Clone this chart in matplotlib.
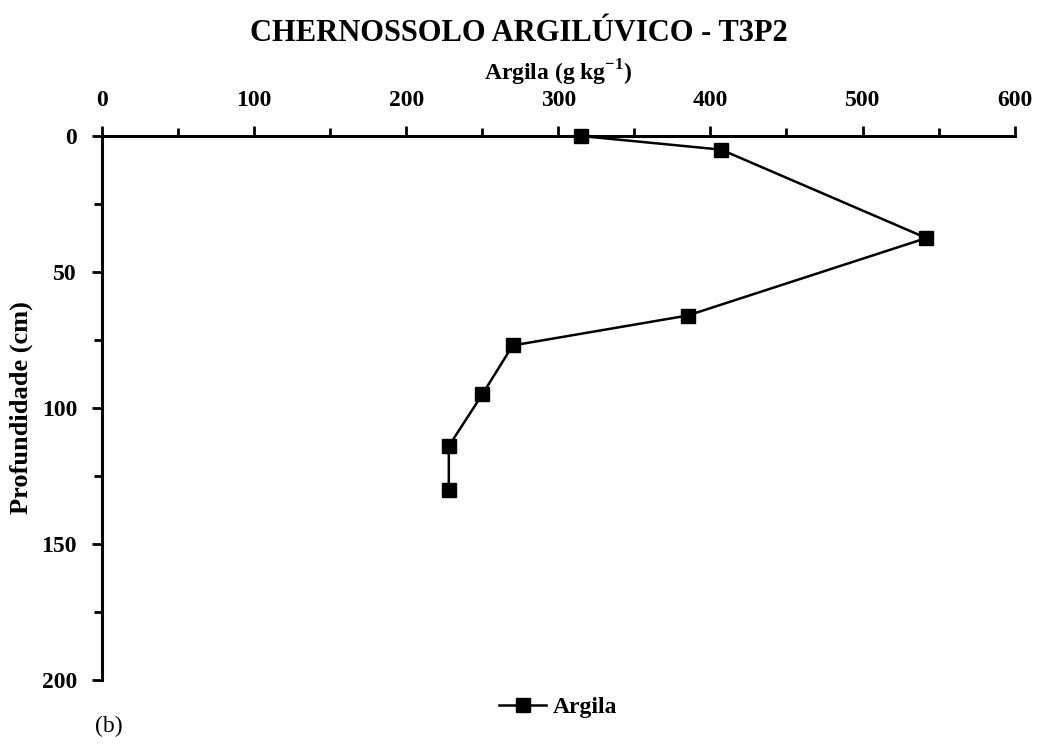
import matplotlib
matplotlib.use("Agg")
import matplotlib.pyplot as plt
from matplotlib.ticker import MultipleLocator

plt.rcParams['font.family'] = ['Liberation Serif', 'DejaVu Serif']
plt.rcParams['font.weight'] = 'bold'
plt.rcParams['mathtext.fontset'] = 'custom'
plt.rcParams['mathtext.bf'] = 'Liberation Serif:bold'
plt.rcParams['mathtext.rm'] = 'Liberation Serif:bold'

# profile data
argila = [315, 407, 542, 385, 270, 250, 228, 228]
profundidade = [0, 5, 37.5, 66, 77, 95, 114, 130]

fig = plt.figure(figsize=(10.37, 7.49), dpi=100)
ax = fig.add_axes([0.0984, 0.0921, 0.880, 0.7263])

ax.plot(argila, profundidade, color='k', lw=1.8, marker='s', markersize=10,
        label='Argila', clip_on=False, zorder=5)

ax.set_xlim(0, 600)
ax.set_ylim(200, 0)
ax.xaxis.set_major_locator(MultipleLocator(100))
ax.xaxis.set_minor_locator(MultipleLocator(50))
ax.yaxis.set_major_locator(MultipleLocator(50))
ax.yaxis.set_minor_locator(MultipleLocator(25))

ax.xaxis.tick_top()
ax.xaxis.set_label_position('top')
ax.spines['right'].set_visible(False)
ax.spines['bottom'].set_visible(False)
ax.spines['top'].set_linewidth(2.2)
ax.spines['left'].set_linewidth(2.2)
ax.tick_params(which='both', direction='out', width=2, labelsize=17)
ax.tick_params(which='major', length=7)
ax.tick_params(which='minor', length=6)
ax.tick_params(axis='x', pad=11)
ax.tick_params(axis='y', pad=11)

ax.set_xlabel('Argila (g kg$^{-1}$)', fontsize=17, fontweight='bold', labelpad=7)
ax.set_ylabel('Profundidade (cm)', fontsize=19, fontweight='bold', labelpad=6)
fig.text(0.5, 0.955, 'CHERNOSSOLO ARGILÚVICO - T3P2', ha='center', va='center',
         fontsize=22, fontweight='bold')

ax.legend(loc='upper center', bbox_to_anchor=(0.5, 0.0), frameon=False,
          fontsize=17, handlelength=2.0, handletextpad=0.3, borderpad=0.2)

fig.text(0.092, 0.022, '(b)', fontsize=17, fontweight='normal')

fig.savefig('out.png', dpi=100)
